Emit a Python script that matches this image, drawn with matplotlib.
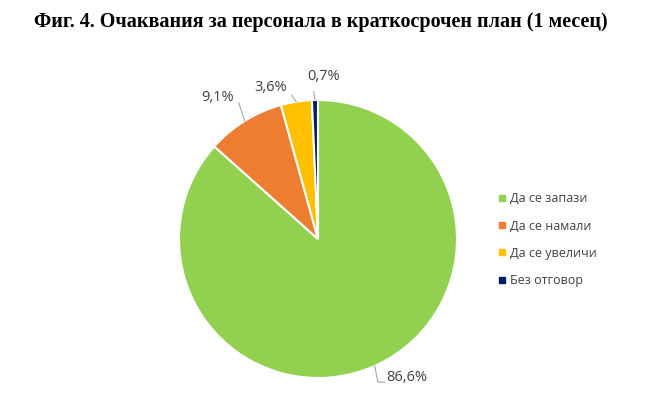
import matplotlib
matplotlib.use("Agg")
import matplotlib.pyplot as plt
from matplotlib.lines import Line2D
import numpy as np

title = "Фиг. 4. Очаквания за персонала в краткосрочен план (1 месец)"
categories = ["Да се запази", "Да се намали", "Да се увеличи", "Без отговор"]
values = [86.6, 9.1, 3.6, 0.7]
colors = ["#92D050", "#ED7D31", "#FFC000", "#002060"]
value_labels = ["86,6%", "9,1%", "3,6%", "0,7%"]

W, H = 651, 395
fig = plt.figure(figsize=(W / 100, H / 100), dpi=100)
fig.patch.set_facecolor("white")

cx, cy, r = 318, 239, 139
ax = fig.add_axes([(cx - r) / W, (H - cy - r) / H, 2 * r / W, 2 * r / H])
wedges, _ = ax.pie(values, colors=colors, startangle=90, counterclock=False,
                   radius=1.0, wedgeprops=dict(edgecolor="white", linewidth=1.5))
ax.set_xlim(-1, 1)
ax.set_ylim(-1, 1)
ax.set_aspect("equal")
ax.axis("off")

lab_font = dict(family=["Open Sans", "DejaVu Sans"], size=10.5, color="#404040")
# label placements (in axes data units relative to the pie)
label_pos = [(0.49, -0.995), (-0.72, 0.965), (-0.34, 1.035), (0.04, 1.115)]
line_end = [(0.43, -1.03), (-0.57, 0.98), (-0.19, 1.035), (-0.03, 1.06)]
for w, lab, lp, le in zip(wedges, value_labels, label_pos, line_end):
    ang = np.deg2rad((w.theta1 + w.theta2) / 2)
    ex, ey = np.cos(ang), np.sin(ang)
    if lp[1] < 0:
        ax.plot([ex, le[0], le[0] + 0.05], [ey, le[1], le[1]], color="#A6A6A6",
                lw=0.8, clip_on=False)
        ax.text(lp[0], lp[1], lab, ha="left", va="center", **lab_font)
    else:
        ax.plot([ex, le[0]], [ey, le[1]], color="#A6A6A6", lw=0.8, clip_on=False)
        ax.text(lp[0], lp[1], lab, ha="center", va="bottom", **lab_font)

fig.text(321 / W, 1 - 22 / H, title, ha="center", va="center",
         family=["Liberation Serif", "DejaVu Serif"], fontweight="bold", fontsize=14.5)

handles = [Line2D([0], [0], marker="s", linestyle="none", markersize=5,
                  markerfacecolor=c, markeredgecolor=c) for c in colors]
leg = fig.legend(handles, categories, loc="upper left",
                 bbox_to_anchor=(493 / W, 1 - 187 / H), frameon=False,
                 prop=dict(family=["Open Sans", "DejaVu Sans"], size=9),
                 labelcolor="#404040", handlelength=0.6, handletextpad=0.4,
                 labelspacing=1.15, borderaxespad=0)

fig.savefig("out.png", dpi=100, facecolor="white")
